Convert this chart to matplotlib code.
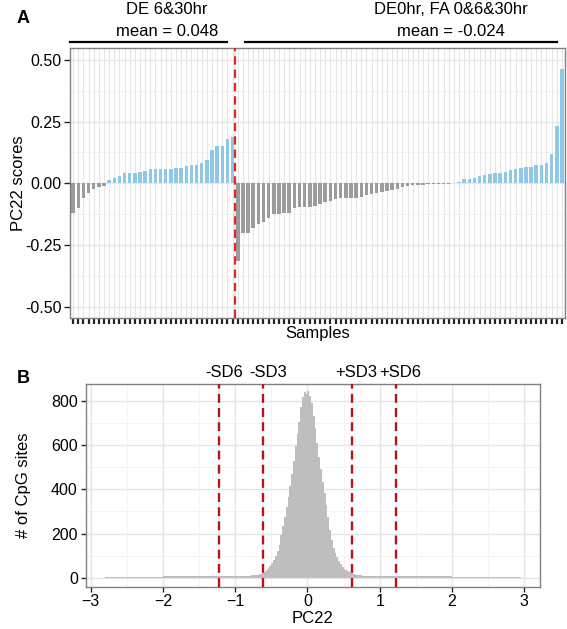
import numpy as np
import matplotlib
matplotlib.use("Agg")
import matplotlib.pyplot as plt

plt.rcParams['font.family'] = ['Liberation Sans', 'DejaVu Sans']

# panel A: PC22 scores per sample, sorted inside each group
de_scores = [-0.122, -0.101, -0.058, -0.041, -0.024, -0.015, -0.013,
             0.0135, 0.022, 0.031, 0.041, 0.041, 0.041, 0.045, 0.050,
             0.057, 0.057, 0.057, 0.057, 0.057, 0.062, 0.063, 0.069,
             0.074, 0.074, 0.084, 0.094, 0.135, 0.151, 0.151, 0.178, 0.187]
other_scores = [-0.314, -0.200, -0.200, -0.180, -0.165, -0.158, -0.142, -0.126,
                -0.126, -0.122, -0.119, -0.099, -0.097, -0.095, -0.095, -0.092,
                -0.085, -0.077, -0.070, -0.062, -0.061, -0.060,
                -0.060, -0.058, -0.054, -0.047, -0.045, -0.038, -0.036, -0.031,
                -0.027, -0.023, -0.016, -0.011, -0.008, -0.007, -0.007, -0.005,
                -0.004, -0.003, -0.0015, -0.001,
                0.003, 0.004, 0.018, 0.019, 0.020, 0.031, 0.034, 0.038,
                0.041, 0.041, 0.047, 0.054, 0.057, 0.061, 0.064, 0.064,
                0.073, 0.073, 0.081, 0.118, 0.230, 0.464]
group_names = ["DE 6&30hr", "DE0hr, FA 0&6&30hr"]
group_means = ["mean = 0.048", "mean = -0.024"]

# panel B: histogram of PC22 over CpG sites
tail_left_edges = [-2.8, -2.6, -2.4, -2.2, -2.0, -1.8, -1.6, -1.4, -1.2, -1.0]
tail_left_counts = [5, 5, 5, 5, 6, 6, 7, 8, 9, 10]
core_counts = [10, 11, 12, 13, 14, 16, 18, 21, 26, 34, 44, 55, 67, 82, 100, 122,
               148, 195, 235, 275, 318, 365, 415, 470, 530, 595, 650, 705, 770, 815, 838, 830,
               842, 820, 790, 730, 675, 610, 545, 490, 435, 385, 330, 275, 215, 170, 135, 110,
               95, 75, 62, 50, 42, 35, 30, 25, 20, 17, 15, 13, 12, 11, 10, 10]
tail_right_edges = [1.0, 1.2, 1.4, 1.6, 1.8, 2.0, 2.2, 2.4, 2.6, 2.8, 2.95]
tail_right_counts = [9, 8, 7, 7, 6, 6, 5, 5, 5, 5, 5]
sd_lines = [-1.22, -0.61, 0.61, 1.22]
sd_labels = ["-SD6", "-SD3", "+SD3", "+SD6"]

scores = de_scores + other_scores
xpos = np.arange(len(scores))
bar_cols = ['#8ec7e8' if v > 0 else '#9b9b9b' for v in scores]

FS = 12      # labels / annotations
TFS = 11.5   # tick labels

fig = plt.figure(figsize=(5.67, 6.29), dpi=100)
axA = fig.add_axes([0.1235, 0.4940, 0.8730, 0.4293])
axB = fig.add_axes([0.1508, 0.0673, 0.8007, 0.3223])

border = '#808080'
grid_major = '#e6e6e6'
grid_minor = '#f2f2f2'

# ---- panel A ----
for y in [-0.375, -0.125, 0.125, 0.375]:
    axA.axhline(y, color=grid_minor, lw=0.6, zorder=0)
for y in [-0.5, -0.25, 0, 0.25, 0.5]:
    axA.axhline(y, color=grid_major, lw=1.0, zorder=0)
for x in xpos:
    axA.axvline(x, color=grid_major, lw=0.8, zorder=0)
axA.bar(xpos, scores, width=0.68, color=bar_cols, zorder=2)
axA.axvline(len(de_scores) - 0.5, color='#ee2222', lw=1.6, dashes=(3.8, 2.2), zorder=3)
axA.set_xlim(-0.6, len(scores) - 0.4)
axA.set_ylim(-0.547, 0.547)
axA.set_xticks(xpos)
axA.set_xticklabels([])
axA.tick_params(axis='x', length=4.2, width=1.6, color='#222222')
axA.set_yticks([-0.5, -0.25, 0, 0.25, 0.5])
axA.set_yticklabels(['-0.50', '-0.25', '0.00', '0.25', '0.50'])
axA.tick_params(axis='y', length=4, width=1.0, color='#222222', labelsize=TFS, pad=2)
axA.set_xlabel('Samples', fontsize=FS)
axA.xaxis.set_label_coords(0.5, -0.03)
axA.set_ylabel('PC22 scores', fontsize=FS)
axA.yaxis.set_label_coords(-0.088, 0.5)
for s in axA.spines.values():
    s.set_color(border)
    s.set_linewidth(1.0)

# group brackets above panel A
tr = axA.get_xaxis_transform()
axA.plot([-0.6, 30.0], [1.023, 1.023], color='black', lw=1.6, transform=tr, clip_on=False)
axA.plot([33.5, 94.1], [1.023, 1.023], color='black', lw=1.6, transform=tr, clip_on=False)
for xc, name, mean in zip([18.2, 73.4], group_names, group_means):
    axA.text(xc, 1.142, name, transform=tr, ha='center', va='center', fontsize=FS)
    axA.text(xc, 1.062, mean, transform=tr, ha='center', va='center', fontsize=FS)

# ---- panel B ----
edges = np.concatenate([tail_left_edges, np.linspace(-0.8, 0.8, 65), tail_right_edges])
counts = np.concatenate([tail_left_counts, core_counts, tail_right_counts])
for x in [-2.5, -1.5, -0.5, 0.5, 1.5, 2.5]:
    axB.axvline(x, color=grid_minor, lw=0.6, zorder=0)
for y in [100, 300, 500, 700]:
    axB.axhline(y, color=grid_minor, lw=0.6, zorder=0)
for x in range(-3, 4):
    axB.axvline(x, color=grid_major, lw=1.0, zorder=0)
for y in range(0, 801, 200):
    axB.axhline(y, color=grid_major, lw=1.0, zorder=0)
axB.stairs(counts, edges, fill=True, color='#bebebe', zorder=2)
for x, lab in zip(sd_lines, sd_labels):
    axB.axvline(x, color='#b51515', lw=1.7, dashes=(3.8, 2.2), zorder=3)
    axB.annotate(lab, (x, 1.0), xycoords=('data', 'axes fraction'),
                 xytext=(3.2, 8.5), textcoords='offset points',
                 ha='center', va='center', fontsize=FS, annotation_clip=False)
axB.set_xlim(-3.07, 3.21)
axB.set_ylim(-40, 876)
axB.set_xticks(range(-3, 4))
axB.set_yticks(range(0, 801, 200))
axB.tick_params(length=3.5, width=1.0, color='#222222', labelsize=TFS, pad=2)
axB.set_xlabel('PC22', fontsize=FS)
axB.xaxis.set_label_coords(0.5, -0.12)
axB.set_ylabel('# of CpG sites', fontsize=FS)
axB.yaxis.set_label_coords(-0.12, 0.5)
for s in axB.spines.values():
    s.set_color(border)
    s.set_linewidth(1.0)

fig.text(0.0406, 0.971, 'A', fontsize=13, fontweight='bold', ha='center', va='center')
fig.text(0.041, 0.399, 'B', fontsize=13, fontweight='bold', ha='center', va='center')

fig.savefig('out.png', dpi=100)
